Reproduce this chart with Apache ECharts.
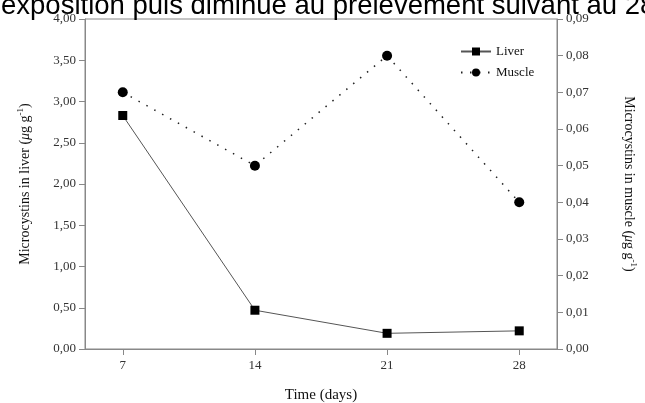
<!DOCTYPE html>
<html><head><meta charset="utf-8">
<script src="https://cdn.jsdelivr.net/npm/echarts@6/dist/echarts.min.js"></script>
<style>html,body{margin:0;padding:0;background:#fff}#c{width:645px;height:403px}</style>
</head><body><div id="c"></div>
<script>
var days = [7, 14, 21, 28];
var liver = [2.83, 0.47, 0.19, 0.22];
var muscle = [0.070, 0.050, 0.080, 0.040];
var headerText = 'exposition puis diminue au prélèvement suivant au 28';

var chart = echarts.init(document.getElementById('c'));
var serif = '"Liberation Serif","DejaVu Serif",serif';
function fmt(v){ return v.toFixed(2).replace('.', ','); }
var rich = {
  a: {fontFamily: serif, fontSize: 14, color: '#111'},
  i: {fontFamily: serif, fontSize: 14, fontStyle: 'italic', color: '#111'},
  s: {fontFamily: serif, fontSize: 9, color: '#111', padding: [0, 0, 9, 0]}
};
chart.setOption({
  animation: false,
  graphic: [{
    type: 'text', left: 1, top: -8,
    style: {text: headerText, font: '27.5px "Liberation Sans", Arial, sans-serif', fill: '#000'}
  }],
  legend: {
    orient: 'vertical', left: 455, top: 40, itemWidth: 30, itemHeight: 10, itemGap: 8,
    textStyle: {fontFamily: serif, fontSize: 13, color: '#111'},
    data: ['Liver', 'Muscle']
  },
  grid: {left: 85, right: 88, top: 19, bottom: 54, show: true, borderColor: '#888', borderWidth: 1,
         containLabel: false, outerBoundsMode: 'none'},
  xAxis: {
    type: 'value', min: 5, max: 30,
    name: 'Time (days)', nameLocation: 'middle', nameGap: 39,
    nameTextStyle: {fontFamily: serif, fontSize: 15, color: '#111'},
    axisLine: {lineStyle: {color: '#888'}},
    axisTick: {customValues: days, length: 6, lineStyle: {color: '#888'}},
    axisLabel: {customValues: days, fontFamily: serif, fontSize: 13, color: '#333', margin: 10},
    splitLine: {show: false}
  },
  yAxis: [{
    type: 'value', min: 0, max: 4, interval: 0.5, position: 'left',
    name: '{a|Microcystins in liver (}{i|μ}{a|g g}{s|-1}{a|)}',
    nameLocation: 'middle', nameGap: 51, nameRotate: 90,
    nameTextStyle: {rich: rich},
    axisLine: {show: true, lineStyle: {color: '#888'}},
    axisTick: {show: true, length: 6, lineStyle: {color: '#888'}},
    axisLabel: {formatter: fmt, fontFamily: serif, fontSize: 13, color: '#333', margin: 9},
    splitLine: {show: false}
  }, {
    type: 'value', min: 0, max: 0.09, interval: 0.01, position: 'right',
    name: '{a|Microcystins in muscle (}{i|μ}{a|g g}{s|-1}{a|)}',
    nameLocation: 'middle', nameGap: 63, nameRotate: -90,
    nameTextStyle: {rich: rich},
    axisLine: {show: true, lineStyle: {color: '#888'}},
    axisTick: {show: true, length: 6, lineStyle: {color: '#888'}},
    axisLabel: {formatter: fmt, fontFamily: serif, fontSize: 13, color: '#333', margin: 9},
    splitLine: {show: false}
  }],
  series: [{
    name: 'Liver', type: 'line', yAxisIndex: 0,
    data: days.map(function(d, i){ return [d, liver[i]]; }),
    symbol: 'rect', symbolSize: 9,
    itemStyle: {color: '#000'},
    lineStyle: {color: '#555', width: 1}
  }, {
    name: 'Muscle', type: 'line', yAxisIndex: 1,
    data: days.map(function(d, i){ return [d, muscle[i]]; }),
    symbol: 'circle', symbolSize: 10,
    itemStyle: {color: '#000'},
    lineStyle: {color: '#222', width: 1.5, type: [1.5, 7.5]}
  }]
});
</script></body></html>
